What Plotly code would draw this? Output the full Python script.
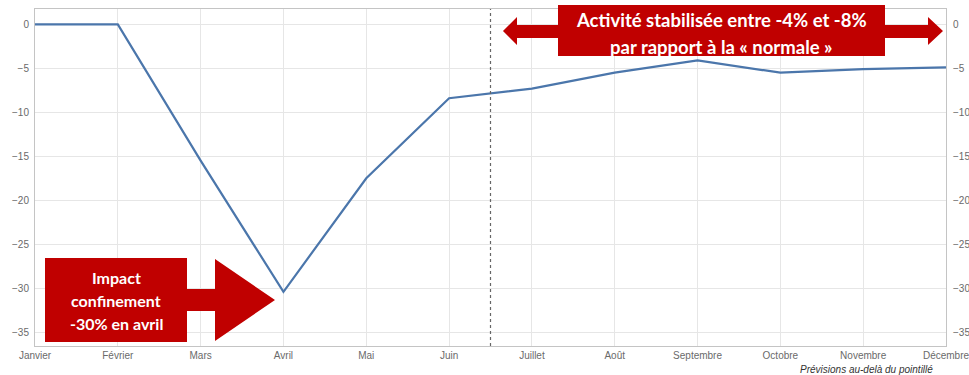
import plotly.graph_objects as go

# Monthly activity gap vs. a "normal" year (%)
months = ["Janvier", "Février", "Mars", "Avril", "Mai", "Juin",
          "Juillet", "Août", "Septembre", "Octobre", "Novembre", "Décembre"]
activity = [0, 0, -15.5, -30.4, -17.5, -8.4, -7.3, -5.5, -4.1, -5.5, -5.1, -4.9]
y_ticks = [0, -5, -10, -15, -20, -25, -30, -35]
forecast_start = 5.5  # forecasts begin between June and July

top_lines = ["Activité stabilisée entre -4% et -8%", "par rapport à la « normale »"]
impact_lines = ["Impact", "confinement", "-30% en avril"]

W, H = 969, 375
L, R, T, B = 35, 23, 9, 29
PW, PH = W - L - R, H - T - B

def px(x):
    return (x - L) / PW

def py(y):
    return (H - B - y) / PH

def path(points):
    return "M " + " L ".join(f"{px(x):.5f},{py(y):.5f}" for x, y in points) + " Z"

RED = "#C00000"
x_idx = list(range(len(months)))

fig = go.Figure()
fig.add_trace(go.Scatter(x=x_idx, y=activity, mode="lines",
                         line=dict(color="#4B76AB", width=2.2),
                         showlegend=False, hoverinfo="skip"))
# mirror trace so the right-hand axis gets drawn
fig.add_trace(go.Scatter(x=x_idx, y=activity, mode="lines", yaxis="y2",
                         line=dict(width=0), opacity=0,
                         showlegend=False, hoverinfo="skip"))

axis_font = dict(family="Liberation Sans, Arial, sans-serif", size=10, color="#6a6a6a")
yrange = [-36.56, 1.74]

fig.update_layout(
    width=W, height=H,
    margin=dict(l=L, r=R, t=T, b=B, pad=0),
    paper_bgcolor="white", plot_bgcolor="white",
    xaxis=dict(range=[0, 11], tickvals=x_idx, ticktext=months, automargin=False,
               ticklabeloverflow="allow",
               showgrid=True, gridcolor="#e6e6e6", gridwidth=1,
               zeroline=False, showline=True, linecolor="#c4c4c4", mirror=True,
               ticks="", tickfont=axis_font, fixedrange=True),
    yaxis=dict(range=yrange, tickvals=y_ticks, automargin=False,
               showgrid=True, gridcolor="#e6e6e6", gridwidth=1,
               zeroline=False, showline=True, linecolor="#c4c4c4", mirror=True,
               ticks="", tickfont=axis_font, ticklabelstandoff=3),
    yaxis2=dict(range=yrange, tickvals=y_ticks, overlaying="y", side="right",
                automargin=False, ticklabeloverflow="allow",
                showgrid=False, zeroline=False, showline=False,
                ticks="", tickfont=axis_font, ticklabelstandoff=6),
)

# forecast boundary
fig.add_shape(type="line", xref="x", yref="paper", x0=forecast_start, x1=forecast_start,
              y0=0, y1=1, line=dict(color="#666666", width=1.2, dash="dot"))

# double arrow + box, top right
fig.add_shape(type="path", xref="paper", yref="paper", line_width=0, fillcolor=RED,
              path=path([(503, 31), (517, 17), (517, 25), (928, 25), (928, 17),
                         (943, 31), (928, 45), (928, 38), (517, 38), (517, 45)]))
fig.add_shape(type="rect", xref="paper", yref="paper", line_width=0, fillcolor=RED,
              x0=px(558), x1=px(885), y0=py(56), y1=py(5))

# box + arrow, bottom left
fig.add_shape(type="rect", xref="paper", yref="paper", line_width=0, fillcolor=RED,
              x0=px(45), x1=px(187), y0=py(342), y1=py(258))
fig.add_shape(type="path", xref="paper", yref="paper", line_width=0, fillcolor=RED,
              path=path([(186, 289), (215, 289), (215, 259), (275, 300),
                         (215, 341), (215, 311), (186, 311)]))

for text, yc in zip(top_lines, [20, 47]):
    fig.add_annotation(xref="paper", yref="paper", x=px(721.5), y=py(yc), text=text,
                       showarrow=False, xanchor="center", yanchor="middle",
                       font=dict(family="Lato, sans-serif", size=18.5, color="white", weight="bold"))
for text, yc in zip(impact_lines, [277, 300, 323]):
    fig.add_annotation(xref="paper", yref="paper", x=px(116), y=py(yc), text=text,
                       showarrow=False, xanchor="center", yanchor="middle",
                       font=dict(family="Lato, sans-serif", size=16, color="white", weight="bold"))

fig.add_annotation(xref="paper", yref="paper", x=px(935), y=py(369),
                   text="<i>Prévisions au-delà du pointillé</i>", showarrow=False,
                   font=dict(family="Liberation Sans, Arial, sans-serif", size=10, color="#333333"),
                   xanchor="right", yanchor="middle")

fig.write_html("out.html")
